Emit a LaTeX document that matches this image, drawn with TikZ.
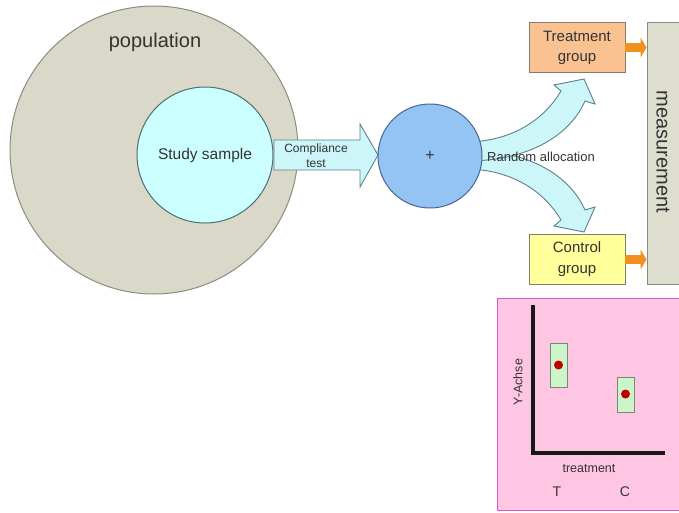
\documentclass[tikz,border=0pt]{standalone}
\usepackage{fontspec}
\setmainfont{Liberation Sans}
\usetikzlibrary{arrows.meta}

\definecolor{popfill}{RGB}{218,216,200}
\definecolor{popline}{RGB}{140,140,128}
\definecolor{samplefill}{RGB}{204,255,255}
\definecolor{sampleline}{RGB}{74,112,112}
\definecolor{arrowfill}{RGB}{204,246,248}
\definecolor{arrowline}{RGB}{90,130,140}
\definecolor{mixfill}{RGB}{148,196,244}
\definecolor{mixline}{RGB}{74,100,150}
\definecolor{treatfill}{RGB}{250,194,145}
\definecolor{ctrlfill}{RGB}{255,255,155}
\definecolor{boxline}{RGB}{130,124,104}
\definecolor{measfill}{RGB}{222,222,206}
\definecolor{measline}{RGB}{138,138,130}
\definecolor{feed}{RGB}{240,144,30}
\definecolor{panelfill}{RGB}{255,198,228}
\definecolor{panelline}{RGB}{210,90,210}
\definecolor{barfill}{RGB}{204,245,204}
\definecolor{barline}{RGB}{120,135,120}
\definecolor{dotred}{RGB}{192,0,0}
\definecolor{ink}{RGB}{51,51,51}

\tikzset{
  txt/.style={text=ink, inner sep=0pt, align=center},
  groupbox/.style={draw=boxline, line width=0.9pt, minimum width=96pt, minimum height=50pt, inner sep=0pt},
  feedarrow/.style={draw=feed, line width=9pt, -{Triangle[length=6pt,width=20pt]}},
  bigarrow/.style={fill=arrowfill, draw=arrowline, line width=0.9pt, line join=miter},
  bar/.style={fill=barfill, draw=barline, line width=0.8pt},
  dot/.style={circle, fill=dotred, minimum size=9pt, inner sep=0pt},
}

\begin{document}
\begin{tikzpicture}[x=1pt,y=-1pt]
\useasboundingbox (0,0) rectangle (679,512);
\fill[white] (0,0) rectangle (679,512);

% population and study sample
\node[circle, draw=popline, fill=popfill, line width=1pt, minimum size=288pt, inner sep=0pt] (pop) at (154,150) {};
\node[txt, font=\fontsize{20}{24}\selectfont] (poplabel) at (155,42) {population};
\node[circle, draw=sampleline, fill=samplefill, line width=1pt, minimum size=136pt, inner sep=0pt] (sample) at (205,155) {};
\node[txt, font=\fontsize{15.5}{18}\selectfont] (samplelabel) at (205,155) {Study sample};

% compliance test block arrow
\draw[bigarrow] (274,140) -- (360,140) -- (360,124) -- (378,155) -- (360,187) -- (360,170) -- (274,170) -- cycle;
\node[txt, font=\fontsize{12}{15}\selectfont] (comp) at (316,155.5) {Compliance\\test};

% random allocation arrows
\draw[bigarrow] (470,169) .. controls (515,171) and (545,193) .. (561,220)
  -- (554,226) -- (584,232) -- (595,207) -- (585,210)
  .. controls (570,176) and (530,151) .. (470,150) -- cycle;
\draw[bigarrow] (470,142) .. controls (515,140) and (545,118) .. (561,91)
  -- (554,85) -- (584,79) -- (595,104) -- (585,101)
  .. controls (570,135) and (530,160) .. (470,161) -- cycle;

% mixing circle
\node[circle, draw=mixline, fill=mixfill, line width=1pt, minimum size=104pt, inner sep=0pt] (mix) at (430,156) {};
\node[txt, font=\fontsize{16}{18}\selectfont] (plus) at (430,156) {+};
\node[txt, font=\fontsize{13}{15}\selectfont] (alloc) at (541,157) {Random allocation};

% groups and measurement
\node[groupbox, fill=treatfill] (treat) at (577,47.5) {};
\node[txt, font=\fontsize{15}{20}\selectfont] at (treat) {Treatment\\group};
\node[groupbox, fill=ctrlfill] (ctrl) at (577,259.5) {};
\node[txt, font=\fontsize{15}{21}\selectfont] at (ctrl) {Control\\group};
\node[draw=measline, fill=measfill, line width=1pt, minimum width=36pt, minimum height=262pt, inner sep=0pt] (meas) at (665,153) {};
\node[txt, font=\fontsize{20}{24}\selectfont, rotate=-90] (measlabel) at (663,152) {measurement};

\draw[feedarrow] (treat.east) -- (meas.west |- treat.east);
\draw[feedarrow] (ctrl.east) -- (meas.west |- ctrl.east);

% result panel
\draw[fill=panelfill, draw=panelline, line width=1pt] (497,298) rectangle (683,510);
\draw[line width=4pt, draw=black!90, line join=miter] (533,305) -- (533,453) -- (665,453);
\node[txt, font=\fontsize{12.5}{15}\selectfont, rotate=90] (ylabel) at (518,382) {Y-Achse};
\node[txt, font=\fontsize{12.5}{15}\selectfont] (xlabel) at (589,469) {treatment};
\node[txt, font=\fontsize{14}{16}\selectfont] (tlabel) at (557,492) {T};
\node[txt, font=\fontsize{14}{16}\selectfont] (clabel) at (625,492) {C};
\draw[bar] (550,343) rectangle (567,387);
\node[dot] (tdot) at (558.5,365) {};
\draw[bar] (617,377) rectangle (634,412);
\node[dot] (cdot) at (625.5,394) {};
\end{tikzpicture}
\end{document}
